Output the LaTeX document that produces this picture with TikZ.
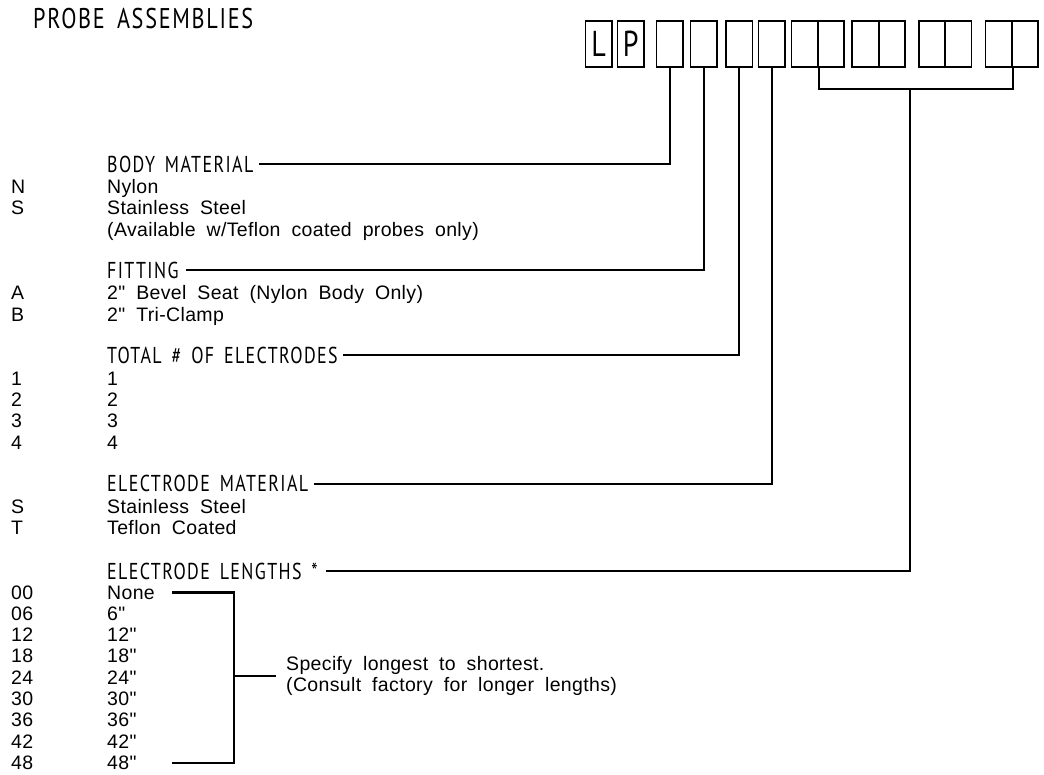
\documentclass[tikz,border=0pt]{standalone}
\usepackage{fontspec}
\setmainfont[Ligatures=TeXOff,WordSpace=1.9,LetterSpace=1.8]{Liberation Sans}
\newfontfamily\headfont[FakeStretch=0.78,LetterSpace=6,WordSpace=1.6]{PT Sans}
\newcommand{\inch}{\symbol{34}}
\begin{document}
\begin{tikzpicture}[x=1pt,y=-1pt,
  box/.style={draw,line width=1.6pt,minimum width=26.5pt,minimum height=46.5pt,inner sep=0pt,font=\headfont\fontsize{36}{36}\selectfont},
  head/.style={anchor=base west,inner sep=0pt,font=\headfont\fontsize{23}{22}\selectfont},
  item/.style={anchor=base west,inner sep=0pt,font=\fontsize{19.5}{21}\selectfont},
  note/.style={anchor=west,inner sep=0pt,align=left,font=\fontsize{19.5}{20.6}\selectfont},
  lead/.style={line width=2.3pt}]

\useasboundingbox (0,0) rectangle (1044,775);
\node[head,font=\headfont\fontsize{28.5}{29}\selectfont] (title) at (33,28.3) {PROBE ASSEMBLIES};

\foreach \x/\t [count=\i] in {598.7/L,630.7/P,669.7/{},703.8/{},739.2/{},771.7/{},804.7/{},831/{},865.5/{},891.7/{},932/{},958.3/{},998.7/{},1025/{}}
  \node[box] (b\i) at (\x,44) {\t};

\node[head] (hbody) at (107,172.3) {BODY MATERIAL};
\foreach \c/\t [count=\i] in {N/Nylon,S/Stainless Steel,{}/{(Available w/Teflon coated probes only)}}{
  \node[item] (cb\i) at (11,172.3+21.3*\i) {\c};
  \node[item] (tb\i) at (107,172.3+21.3*\i) {\t};
}
\node[head] (hfit) at (107,278.3) {FITTING};
\foreach \c/\t [count=\i] in {A/{2\inch{} Bevel Seat (Nylon Body Only)},B/{2\inch{} Tri-Clamp}}{
  \node[item] (cf\i) at (11,278.3+21.7*\i) {\c};
  \node[item] (tf\i) at (107,278.3+21.7*\i) {\t};
}
\node[head] (htot) at (107,363.3) {TOTAL \# OF ELECTRODES};
\foreach \c [count=\i] in {1,2,3,4}{
  \node[item] (ct\i) at (11,364.3+21.2*\i) {\c};
  \node[item] (tt\i) at (107,364.3+21.2*\i) {\c};
}
\node[head] (hmat) at (107,491.7) {ELECTRODE MATERIAL};
\foreach \c/\t [count=\i] in {S/Stainless Steel,T/Teflon Coated}{
  \node[item] (cm\i) at (11,492.3+21*\i) {\c};
  \node[item] (tm\i) at (107,492.3+21*\i) {\t};
}
\node[head] (hlen) at (107,579) {ELECTRODE LENGTHS *};
\foreach \c/\t [count=\i] in {00/None,06/6\inch,12/12\inch,18/18\inch,24/24\inch,30/30\inch,36/36\inch,42/42\inch,48/48\inch}{
  \node[item] (cl\i) at (11,577.7+21.3*\i) {\c};
  \node[item] (tl\i) at (107,577.7+21.3*\i) {\t};
}

\draw[lead] (b3.south) |- ([xshift=5pt]hbody.east);
\draw[lead] (b4.south) |- ([xshift=7pt]hfit.east);
\draw[lead] (b5.south) |- ([xshift=5pt]htot.east);
\draw[lead] (b6.south) |- ([xshift=6pt]hmat.east);
\coordinate (jn) at (910,89.3);
\draw[lead] (b7.south east) |- (jn) -| (b13.south east);
\draw[lead] (jn) |- ([xshift=8pt]hlen.east);

\coordinate (bx) at (234.3,0);
\coordinate (stub) at (276,675.7);
\draw[lead] (172.3,0 |- tl1.east) -| (bx |- tl9.east) -- (172.3,0 |- tl9.east);
\draw[lead] (bx |- stub) -- (stub);
\node[note] (spec) at ([xshift=10pt]stub) {Specify longest to shortest.\\(Consult factory for longer lengths)};
\end{tikzpicture}
\end{document}
